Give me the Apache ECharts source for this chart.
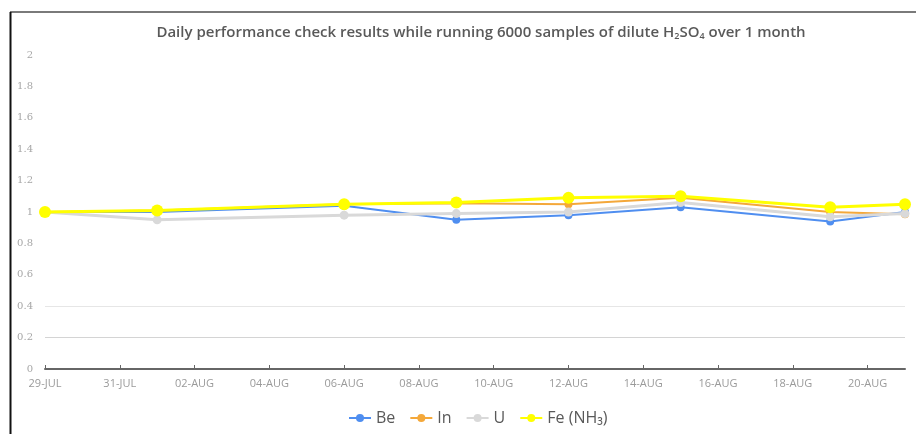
<!DOCTYPE html>
<html>
<head>
<meta charset="utf-8">
<script src="https://cdn.jsdelivr.net/npm/echarts@6/dist/echarts.min.js"></script>
<style>html,body{margin:0;padding:0;background:#fff}#c{width:916px;height:434px}</style>
</head>
<body>
<div id="c"></div>
<script>
const dates = ['2019-07-29','2019-08-01','2019-08-06','2019-08-09','2019-08-12','2019-08-15','2019-08-19','2019-08-21'];
const beValues = [1.00, 1.00, 1.04, 0.95, 0.98, 1.03, 0.94, 1.00];
const inValues = [1.00, 1.01, 1.05, 1.055, 1.05, 1.09, 1.00, 0.985];
const uValues  = [1.00, 0.95, 0.98, 0.99, 1.00, 1.06, 0.97, 0.99];
const feValues = [1.00, 1.01, 1.05, 1.06, 1.09, 1.10, 1.03, 1.05];
const xTickLabels = ['29-JUL','31-JUL','02-AUG','04-AUG','06-AUG','08-AUG','10-AUG','12-AUG','14-AUG','16-AUG','18-AUG','20-AUG'];
const yTicks = [0,0.2,0.4,0.6,0.8,1,1.2,1.4,1.6,1.8,2];

const DAY = 86400000;
const t0 = Date.parse(dates[0] + 'T00:00:00Z');
const dayOf = d => Math.round((Date.parse(d + 'T00:00:00Z') - t0) / DAY);
const xs = dates.map(dayOf);
const pair = vals => xs.map((x, i) => [x, vals[i]]);
const tickDays = xTickLabels.map((_, i) => i * 2);

const chart = echarts.init(document.getElementById('c'));
const mk = (name, vals, color, size, width) => ({
  name, type: 'line', data: pair(vals), symbol: 'circle', symbolSize: size,
  itemStyle: {color}, lineStyle: {color, width}, emphasis: {disabled: true}
});
chart.setOption({
  animation: false,
  textStyle: {fontFamily: 'Open Sans'},
  title: {
    text: 'Daily performance check results while running 6000 samples of dilute H{s|2}SO{s|4} over 1 month',
    left: 476, textAlign: 'center', top: 20,
    textStyle: {
      fontFamily: 'Open Sans', fontSize: 15, fontWeight: 600, color: '#595959',
      rich: {s: {fontFamily: 'Open Sans', fontSize: 9, fontWeight: 600, color: '#595959', verticalAlign: 'bottom', padding: [7, 0, 0, 0]}}
    }
  },
  legend: {
    bottom: 3, left: 343, itemWidth: 22, itemHeight: 10, itemGap: 14,
    textStyle: {fontSize: 16, color: '#595959', fontFamily: 'Open Sans'},
    data: ['Be', 'In', 'U', 'Fe (NH₃)']
  },
  grid: {left: 45, right: 11, top: 55, bottom: 65, containLabel: false},
  xAxis: {
    type: 'value', min: 0, max: 23, interval: 2,
    axisLine: {show: true, lineStyle: {color: '#666', width: 2}},
    axisTick: {show: true, customValues: tickDays, length: 4, inside: true, lineStyle: {color: '#666'}},
    axisLabel: {customValues: tickDays, margin: 9, fontSize: 11, color: '#9a9a9a',
      formatter: v => xTickLabels[Math.round(v / 2)] || ''},
    splitLine: {show: false}
  },
  yAxis: {
    type: 'value', min: 0, max: 2, interval: 0.2,
    axisLine: {show: false}, axisTick: {show: false},
    axisLabel: {margin: 12, fontSize: 10, color: '#a6a6a6', fontFamily: 'DejaVu Serif',
      formatter: v => String(Math.round(v * 10) / 10)},
    splitLine: {show: true, lineStyle: {width: 1, color: ['transparent', '#d4d4d4', '#e6e6e6', 'transparent', 'transparent', 'transparent', 'transparent', 'transparent', 'transparent', 'transparent', 'transparent']}}
  },
  graphic: [
    {type: 'line', shape: {x1: 10, y1: 12, x2: 916, y2: 12}, style: {stroke: '#7a7a7a', lineWidth: 2}, silent: true},
    {type: 'line', shape: {x1: 10.5, y1: 12, x2: 10.5, y2: 434}, style: {stroke: '#111', lineWidth: 2}, silent: true}
  ],
  series: [
    mk('Be', beValues, '#4f8ef0', 8, 2),
    mk('In', inValues, '#f4a83a', 8, 2),
    mk('U', uValues, '#d9d9d9', 9, 3),
    mk('Fe (NH₃)', feValues, '#ffff00', 12, 3)
  ]
});
</script>
</body>
</html>
